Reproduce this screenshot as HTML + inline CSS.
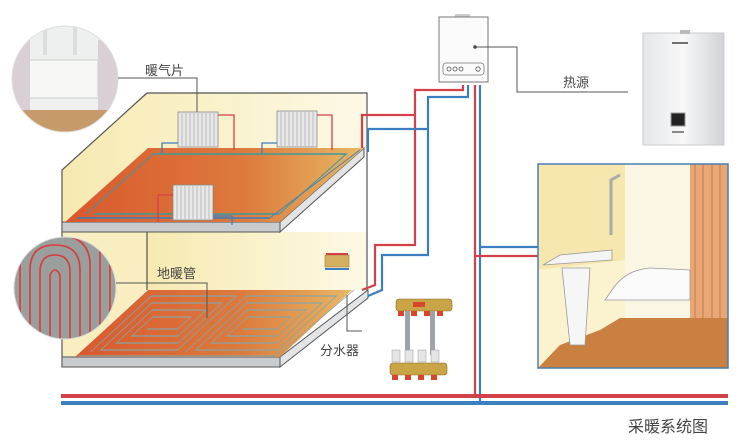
<!DOCTYPE html>
<html><head><meta charset="utf-8"><style>
html,body{margin:0;padding:0;background:#fff;}
svg{display:block;}
text{font-family:"Liberation Sans","Noto Sans CJK SC",sans-serif;fill:#444;}
</style></head><body>
<svg width="750" height="445" viewBox="0 0 750 445" xmlns="http://www.w3.org/2000/svg">
<defs>
<linearGradient id="wall" x1="0" y1="0" x2="1" y2="0"><stop offset="0" stop-color="#f6eab0"/><stop offset="1" stop-color="#fdf9e6"/></linearGradient>
<linearGradient id="flr" x1="0" y1="0" x2="1" y2="0"><stop offset="0" stop-color="#d9582e"/><stop offset="0.6" stop-color="#dd7a3c"/><stop offset="1" stop-color="#e8b865"/></linearGradient>
<linearGradient id="boil" x1="0" y1="0" x2="1" y2="0"><stop offset="0" stop-color="#e4e6e8"/><stop offset="0.5" stop-color="#f8f8f8"/><stop offset="1" stop-color="#d0d3d6"/></linearGradient>
<clipPath id="c1"><circle cx="65" cy="79" r="53"/></clipPath>
<clipPath id="c2"><circle cx="65" cy="288" r="51"/></clipPath>
</defs>

<!-- building walls -->
<path d="M147,93 L367,93 L367,150 L148,148 L65,222 L62,222 L62,170 Z" fill="url(#wall)"/>
<path d="M62,232 L147,232 L147,290 L75,357 L62,357 Z" fill="#f8eebf"/>
<path d="M147,232 L367,232 L367,290 L147,290 Z" fill="url(#wall)"/>
<path d="M147,93 L62,170 L62,367 M147,93 L367,93 L367,295 M147,232 L147,290" fill="none" stroke="#555" stroke-width="1.2"/>

<!-- upper slab -->
<path d="M62,222 L280,222 L280,232 L62,232 Z" fill="#c9cccf" stroke="#555" stroke-width="1"/>
<path d="M280,222 L364,148 L364,157 L280,232 Z" fill="#e2e4e6" stroke="#555" stroke-width="1"/>
<path d="M148,148 L364,148 L280,222 L65,222 Z" fill="url(#flr)"/>
<g transform="matrix(1,0,-1.12,1,148,148)" fill="none" stroke-width="1.5">
<path d="M12,66 L12,6 L205,6 L205,66 L20,66" stroke="#3a9aa0"/>
<path d="M8,70 L200,70 L214,2" stroke="#3b7fc0"/>
</g>
<!-- radiators -->
<g fill="#e8e8e8" stroke="#888" stroke-width="0.8">
<rect x="178" y="112" width="40" height="35"/><rect x="277" y="111" width="40" height="36"/><rect x="173" y="185" width="40" height="35"/>
</g>
<g stroke="#aaa" stroke-width="0.7">
<path d="M182,113v33M186,113v33M190,113v33M194,113v33M198,113v33M202,113v33M206,113v33M210,113v33M214,113v33"/>
<path d="M281,112v34M285,112v34M289,112v34M293,112v34M297,112v34M301,112v34M305,112v34M309,112v34M313,112v34"/>
<path d="M177,186v33M181,186v33M185,186v33M189,186v33M193,186v33M197,186v33M201,186v33M205,186v33M209,186v33"/>
</g>
<g fill="none" stroke-width="1.3">
<path d="M218,115 L234,115 L234,150" stroke="#d2404a"/>
<path d="M317,115 L332,115 L332,150" stroke="#d2404a"/>
<path d="M178,143 L162,143 L162,153" stroke="#3b7fc0"/>
<path d="M277,143 L262,143 L262,153" stroke="#3b7fc0"/>
<path d="M173,195 L158,195 L158,222" stroke="#d2404a"/>
<path d="M213,216 L232,216 L232,225" stroke="#3b7fc0"/>
</g>

<!-- lower slab -->
<path d="M62,357 L280,357 L280,367 L62,367 Z" fill="#c9cccf" stroke="#555" stroke-width="1"/>
<path d="M280,357 L368,290 L368,298 L280,367 Z" fill="#e2e4e6" stroke="#555" stroke-width="1"/>
<path d="M148,290 L352,290 L280,357 L75,357 Z" fill="url(#flr)"/>
<g transform="matrix(1,0,-1.09,1,148,290)" fill="none" stroke="#8aa4a4" stroke-width="1.2">
<path d="M10,62 L10,6 L95,6 L95,60 L18,60 L18,13 L88,13 L88,53 L26,53 L26,20 L80,20 L80,46 L34,46 L34,27 L72,27 L72,39 L42,39"/>
<path d="M105,62 L105,6 L195,6 L195,60 L113,60 L113,13 L188,13 L188,53 L121,53 L121,20 L180,20 L180,46 L129,46 L129,27 L172,27 L172,39 L137,39"/>
<path d="M2,66 L200,66 L206,0"/>
</g>

<!-- circle photos -->
<g clip-path="url(#c1)">
<rect x="10" y="20" width="110" height="120" fill="#eef0f0"/>
<rect x="10" y="110" width="110" height="30" fill="#c79a6a"/>
<rect x="28" y="60" width="70" height="38" fill="#f7f7f5" stroke="#ccc"/>
<rect x="10" y="40" width="20" height="70" fill="#d8d0d4"/><rect x="98" y="40" width="22" height="70" fill="#d8d0d4"/>
<path d="M45,25v30M75,25v30" stroke="#ddd" stroke-width="4"/>
</g>
<circle cx="65" cy="79" r="53" fill="none" stroke="#ddd"/>
<g clip-path="url(#c2)">
<rect x="10" y="230" width="110" height="110" fill="#9a9e9c"/>
<g fill="none" stroke="#d73b3b" stroke-width="1.6">
<path d="M30,340 L30,270 Q30,245 55,245 Q80,245 80,270 L80,340"/>
<path d="M40,340 L40,272 Q40,255 55,255 Q70,255 70,272 L70,340"/>
<path d="M20,340 L20,265 Q20,235 55,235 Q90,235 90,265 L90,340"/>
<path d="M50,340 L50,275 Q55,265 60,275 L60,340"/>
<path d="M100,340 L100,250 M110,340 L110,250"/>
</g>
</g>
<circle cx="65" cy="288" r="51" fill="none" stroke="#ddd"/>

<!-- labels & leaders -->
<text x="145" y="75" font-size="13">暖气片</text>
<path d="M118,78 L197,78 L197,112" fill="none" stroke="#555" stroke-width="1"/>
<text x="157" y="278" font-size="13">地暖管</text>
<path d="M116,283 L198,283 L207,283 L207,318" fill="none" stroke="#555" stroke-width="1"/>
<text x="320" y="355" font-size="13">分水器</text>
<path d="M347,295 L347,331 L362,331" fill="none" stroke="#555" stroke-width="1"/>

<!-- manifold small -->
<rect x="325" y="255" width="24" height="12" fill="#d4b060" stroke="#a08030" stroke-width="0.6"/>
<path d="M326,254 h22" stroke="#d2404a" stroke-width="2"/>
<path d="M325,269 h24" stroke="#3b7fc0" stroke-width="2"/>

<!-- pipes to floors -->
<g fill="none" stroke-width="2.2">
<path d="M463,85 L463,90 L415,90 L415,245 L375,245 L375,285 L362,290" stroke="#d2404a"/>
<path d="M468,85 L468,97 L428,97 L428,255 L382,255 L382,290 L368,296" stroke="#3b7fc0"/>
<path d="M415,115 L362,115 L362,148" stroke="#d2404a"/>
<path d="M428,129 L368,129 L368,152" stroke="#3b7fc0"/>
<path d="M475,85 L475,396" stroke="#d2404a"/>
<path d="M480,85 L480,403" stroke="#3b7fc0"/>
<path d="M480,247 L545,247 L575,235 L611,235 L611,265" stroke="#3b7fc0"/>
<path d="M475,256 L550,256 L560,252 L560,265" stroke="#d2404a"/>
<path d="M575,235 L575,255" stroke="#d2404a"/>
</g>
<!-- main pipes -->
<rect x="61" y="394" width="667" height="4" fill="#d2404a"/>
<rect x="61" y="401" width="667" height="4" fill="#3b7fc0"/>

<!-- boiler -->
<rect x="455" y="14" width="15" height="4" fill="#ccc"/>
<rect x="439" y="17" width="49" height="65" fill="#fbfbfb" stroke="#777" stroke-width="1"/>
<rect x="443" y="63" width="41" height="12" rx="3" fill="none" stroke="#777" stroke-width="0.8"/>
<g fill="none" stroke="#555" stroke-width="0.8"><circle cx="449" cy="69" r="2"/><circle cx="455" cy="69" r="2"/><circle cx="461" cy="69" r="2"/><circle cx="478" cy="69" r="2.2"/></g>
<circle cx="475" cy="47" r="1.8" fill="#444"/>
<path d="M475,47 L517,47 L517,92 L628,92" fill="none" stroke="#555" stroke-width="1"/>
<text x="563" y="87" font-size="13">热源</text>

<!-- boiler photo -->
<rect x="643" y="33" width="81" height="112" fill="url(#boil)" stroke="#ccc"/>
<rect x="680" y="30" width="10" height="4" fill="#bbb"/>
<rect x="671" y="113" width="14" height="13" fill="#222" stroke="#999"/>
<path d="M672,132 h12" stroke="#888" stroke-width="2"/>
<path d="M672,43 h16" stroke="#444" stroke-width="1.5"/>

<!-- bathroom -->
<rect x="538" y="164" width="190" height="204" fill="#fbf3d0"/>
<path d="M538,164 L625,164 L625,260 L538,270 Z" fill="#f5e7ae"/>
<path d="M625,164 L728,164 L728,320 L625,320 Z" fill="#fbf5e4"/>
<rect x="690" y="164" width="38" height="160" fill="#e8a875"/>
<path d="M695,164v160M703,164v160M712,164v160M720,164v160" stroke="#c97850" stroke-width="1"/>
<path d="M538,368 L560,345 L600,330 L620,318 L728,318 L728,368 Z" fill="#c98040"/>
<path d="M605,300 L690,300 L690,270 L650,268 Q625,270 612,290 Z" fill="#fafafa" stroke="#999" stroke-width="0.8"/>
<path d="M543,265 L612,260 L612,250 L560,255 Z" fill="#f4f4f4" stroke="#999" stroke-width="0.8"/>
<path d="M562,268 L590,268 L585,345 L570,345 Z" fill="#f6f6f6" stroke="#999" stroke-width="0.8"/>
<path d="M611,235 L611,180 L620,175" fill="none" stroke="#aaa" stroke-width="3"/>
<rect x="538" y="164" width="190" height="204" fill="none" stroke="#4a7fae" stroke-width="1.5"/>

<!-- manifold picture -->
<g>
<rect x="396" y="299" width="56" height="12" rx="3" fill="#c9a548" stroke="#8a6a20" stroke-width="0.6"/>
<rect x="390" y="363" width="57" height="12" rx="3" fill="#c9a548" stroke="#8a6a20" stroke-width="0.6"/>
<rect x="405" y="311" width="5" height="44" fill="#9ea3a8"/><rect x="430" y="311" width="5" height="44" fill="#9ea3a8"/>
<g fill="#e5e5e5" stroke="#999" stroke-width="0.5"><rect x="392" y="350" width="8" height="12"/><rect x="405" y="350" width="8" height="12"/><rect x="418" y="350" width="8" height="12"/><rect x="431" y="350" width="8" height="12"/></g>
<g fill="#d8452a"><rect x="398" y="311" width="6" height="5"/><rect x="411" y="311" width="6" height="5"/><rect x="424" y="311" width="6" height="5"/><rect x="437" y="311" width="6" height="5"/>
<rect x="392" y="375" width="6" height="5"/><rect x="405" y="375" width="6" height="5"/><rect x="418" y="375" width="6" height="5"/><rect x="431" y="375" width="6" height="5"/></g>
<rect x="413" y="302" width="12" height="5" fill="#d8452a"/>
</g>

<text x="628" y="432" font-size="16" fill="#555">采暖系统图</text>
</svg>
</body></html>
